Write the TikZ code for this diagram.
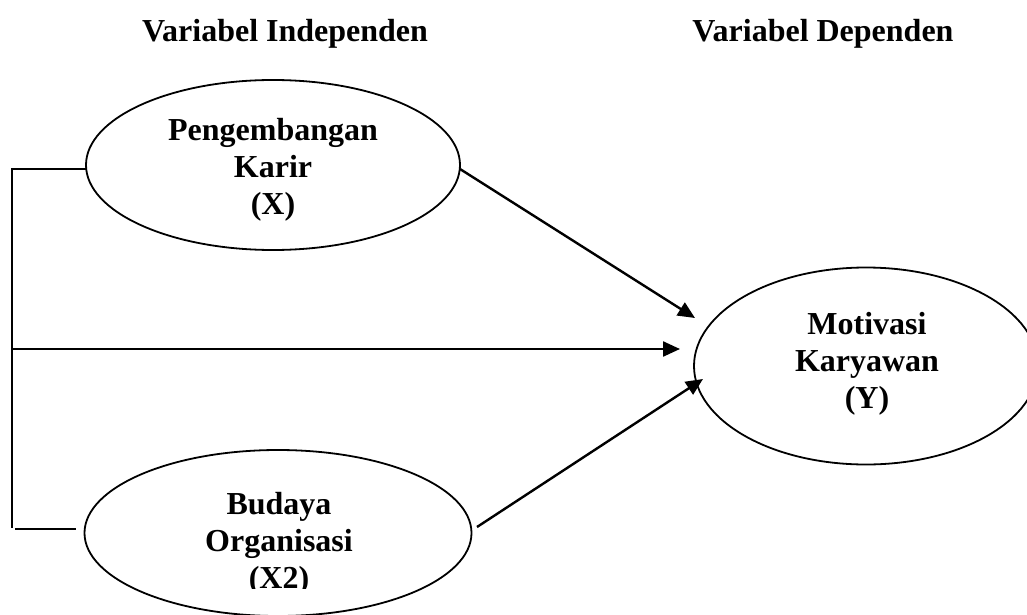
\documentclass[tikz,border=0pt]{standalone}
\usepackage{fontspec}
\setmainfont{Liberation Serif}
\usetikzlibrary{shapes.geometric,arrows.meta}
\tikzset{
  oval/.style={draw, ellipse, line width=1.8pt, inner sep=0pt},
  lbl/.style={align=center, font=\fontsize{32}{37}\selectfont\bfseries, inner sep=0pt},
  conn/.style={line width=2.4pt},
  arr/.style={conn, -{Triangle[length=17pt,width=15pt]}},
  brk/.style={line width=1.8pt}
}
\begin{document}
\begin{tikzpicture}[x=1pt,y=-1pt]
\useasboundingbox (0,0) rectangle (1027,615);
\clip (0,0) rectangle (1027,615);
% headers
\node[lbl, anchor=base] (h1) at (285,42) {Variabel Independen};
\node[lbl, anchor=base] (h2) at (823,42) {Variabel Dependen};
% ellipses
\node[oval, minimum width=374pt, minimum height=170pt] (X) at (273,165) {};
\node[oval, minimum width=387pt, minimum height=166pt] (X2) at (278,533) {};
\node[oval, minimum width=344pt, minimum height=197pt] (Y) at (866,366) {};
% texts
\node[lbl] (tX) at (273,170) {Pengembangan\\Karir\\(X)};
\begin{scope}
\clip (0,0) rectangle (1027,588);
\node[lbl] (tX2) at (279,544) {Budaya\\Organisasi\\(X2)};
\end{scope}
\node[lbl] (tY) at (867,364) {Motivasi\\Karyawan\\(Y)};
% coordinates
\coordinate (bTop) at (12,169);
\coordinate (bMid) at (12,349);
\coordinate (bBot) at (12,528);
\coordinate (xl) at (86,169);
\coordinate (b2a) at (15,529);
\coordinate (b2b) at (76,529);
\coordinate (s1) at (460,169);
\coordinate (e1) at (695,318);
\coordinate (e0) at (680,349);
\coordinate (s2) at (477,527);
\coordinate (e2) at (703,379);
% bracket
\draw[brk] (xl) -- (bTop) -- (bBot);
\draw[line width=2.8pt] (12,333) -- (12,375);
\draw[brk] (b2a) -- (b2b);
% arrows
\draw[arr] (s1) -- (e1);
\draw[arr] (bMid) -- (e0);
\draw[arr] (s2) -- (e2);
\end{tikzpicture}
\end{document}
